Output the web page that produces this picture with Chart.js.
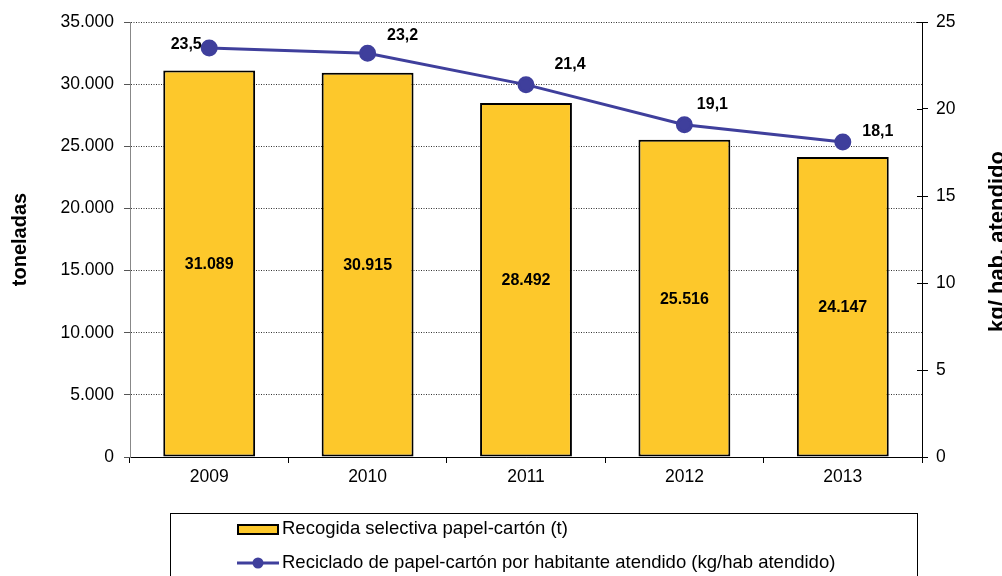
<!DOCTYPE html>
<html>
<head>
<meta charset="utf-8">
<script src="https://cdn.jsdelivr.net/npm/chart.js@4"></script>
<style>
  html, body { margin: 0; padding: 0; background: #fff; }
  #wrap { width: 1002px; height: 576px; }
</style>
</head>
<body>
<div id="wrap"><canvas id="myChart" width="1002" height="576"></canvas></div>
<script>
// data
var years = ['2009', '2010', '2011', '2012', '2013']
var toneladas = [31089, 30915, 28492, 25516, 24147]
var kgHab = [23.5, 23.2, 21.4, 19.1, 18.1]
var barLabel = 'Recogida selectiva papel-cartón (t)'
var lineLabel = 'Reciclado de papel-cartón por habitante atendido (kg/hab atendido)'

var FONT = '"Liberation Sans", Arial, sans-serif'
var BAR_COLOR = '#fdc82b'
var LINE_COLOR = '#3f3f9c'

function miles(v){
  return String(v).replace(/\B(?=(\d{3})+(?!\d))/g, '.')
}
function coma(v){
  return v.toFixed(1).replace('.', ',')
}

var extras = {
  id: 'extras',
  afterDatasetsDraw: function(chart){
    var ctx = chart.ctx
    var area = chart.chartArea
    var midY = (area.top + area.bottom) / 2
    ctx.save()
    // inner half of the right axis ticks
    var yr = chart.scales.y1
    ctx.strokeStyle = '#000'
    ctx.lineWidth = 1
    yr.ticks.forEach(function(t){
      var py = Math.round(yr.getPixelForValue(t.value)) + 0.5
      ctx.beginPath(); ctx.moveTo(area.right - 5, py); ctx.lineTo(area.right, py); ctx.stroke()
    })
    // bar values
    ctx.fillStyle = '#000'
    ctx.font = 'bold 16px ' + FONT
    ctx.textAlign = 'center'
    ctx.textBaseline = 'middle'
    chart.getDatasetMeta(0).data.forEach(function(bar, i){
      ctx.fillText(miles(toneladas[i]), bar.x, (bar.y + bar.base) / 2 + 1)
    })
    // line values
    var offs = [[-23, -4], [35, -18], [44, -20], [28, -20], [35, -10]]
    chart.getDatasetMeta(1).data.forEach(function(pt, i){
      ctx.fillText(coma(kgHab[i]), pt.x + offs[i][0], pt.y + offs[i][1])
    })
    ctx.restore()
    // axis titles
    ctx.save()
    ctx.fillStyle = '#000'
    ctx.font = 'bold 20px ' + FONT
    ctx.textAlign = 'center'
    ctx.textBaseline = 'alphabetic'
    ctx.translate(26, midY)
    ctx.rotate(-Math.PI / 2)
    ctx.fillText('toneladas', 0, 0)
    ctx.restore()
    ctx.save()
    ctx.fillStyle = '#000'
    ctx.font = 'bold 22px ' + FONT
    ctx.textAlign = 'center'
    ctx.textBaseline = 'alphabetic'
    ctx.translate(1004, midY + 2)
    ctx.rotate(-Math.PI / 2)
    ctx.fillText('kg/ hab. atendido', 0, 0)
    ctx.restore()
    // legend box
    ctx.save()
    ctx.strokeStyle = '#000'
    ctx.lineWidth = 1
    ctx.strokeRect(170.5, 513.5, 747, 80)
    ctx.fillStyle = BAR_COLOR
    ctx.fillRect(238, 525, 40, 9)
    ctx.lineWidth = 2
    ctx.strokeRect(238, 525, 40, 9)
    ctx.fillStyle = '#000'
    ctx.font = '18.5px ' + FONT
    ctx.textAlign = 'left'
    ctx.textBaseline = 'middle'
    ctx.fillText(barLabel, 282, 529)
    ctx.strokeStyle = LINE_COLOR
    ctx.lineWidth = 3
    ctx.beginPath(); ctx.moveTo(237, 563); ctx.lineTo(279, 563); ctx.stroke()
    ctx.fillStyle = LINE_COLOR
    ctx.beginPath(); ctx.arc(258, 563, 5.5, 0, Math.PI * 2); ctx.fill()
    ctx.fillStyle = '#000'
    ctx.fillText(lineLabel, 282, 563)
    ctx.restore()
  }
}

var ctx = document.getElementById('myChart').getContext('2d')
window.chart = new Chart(ctx, {
  type: 'bar',
  data: {
    labels: years,
    datasets: [{
      type: 'bar',
      label: barLabel,
      data: toneladas,
      backgroundColor: BAR_COLOR,
      borderColor: '#000',
      borderWidth: 2,
      borderSkipped: false,
      categoryPercentage: 1,
      barPercentage: 0.58,
      yAxisID: 'y',
      order: 2
    }, {
      type: 'line',
      label: lineLabel,
      data: kgHab,
      borderColor: LINE_COLOR,
      backgroundColor: LINE_COLOR,
      borderWidth: 3,
      pointRadius: 7,
      pointHoverRadius: 7,
      tension: 0,
      yAxisID: 'y1',
      order: 1
    }]
  },
  options: {
    responsive: false,
    animation: false,
    events: [],
    layout: { padding: { top: 22, left: 0, right: 0, bottom: 0 } },
    plugins: { legend: { display: false }, tooltip: { enabled: false } },
    scales: {
      x: {
        offset: true,
        grid: { offset: true, drawOnChartArea: false, color: '#000', tickLength: 6 },
        border: { color: '#000', width: 1 },
        ticks: { color: '#000', font: { family: FONT, size: 17.5 }, padding: 4 },
        afterFit: function(s){ s.height = 119 }
      },
      y: {
        position: 'left',
        min: 0, max: 35000,
        ticks: { stepSize: 5000, color: '#000', font: { family: FONT, size: 17.5 }, padding: 10,
          callback: function(v){ return miles(v) } },
        grid: { color: '#333', lineWidth: 1, tickLength: 6, tickColor: '#555' },
        // dash here is used for the grid lines, the axis line stays solid
        border: { color: '#888', width: 1, dash: [1, 1.5] },
        afterFit: function(s){ s.width = 130 }
      },
      y1: {
        position: 'right',
        min: 0, max: 25,
        ticks: { stepSize: 5, color: '#000', font: { family: FONT, size: 17.5 }, padding: 8 },
        grid: { drawOnChartArea: false, color: '#000', tickLength: 6 },
        border: { color: '#000', width: 1 },
        afterFit: function(s){ s.width = 80 }
      }
    }
  },
  plugins: [extras]
})
</script>
</body>
</html>
